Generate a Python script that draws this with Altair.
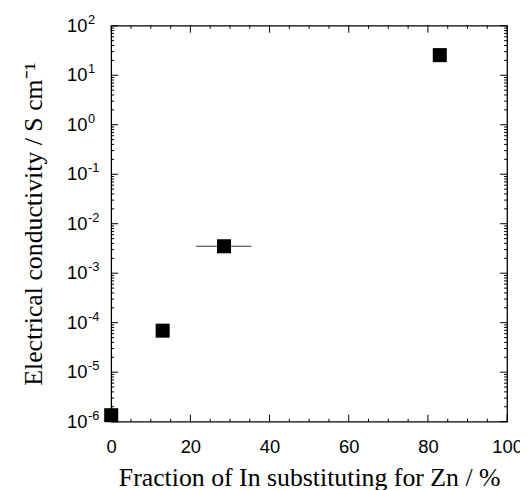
import altair as alt
import pandas as pd

# ---- data ----
frac_in = [0, 13, 28.5, 83]              # % In substituting for Zn
conductivity = [1.35e-6, 6.9e-5, 3.5e-3, 25.5]  # S cm^-1

err_x = [28.5]
err_lo = [21.4]
err_hi = [35.4]
err_y = [3.5e-3]

x_tick_labels = [0, 20, 40, 60, 80, 100]
x_minor = [v for v in range(0, 101, 5) if v % 20 != 0]
y_decades = [1e-6, 1e-5, 1e-4, 1e-3, 1e-2, 1e-1, 1e0, 1e1, 1e2]
y_base = ["10"] * 9
y_exponents = ["-6", "-5", "-4", "-3", "-2", "-1", "0", "1", "2"]
y_minor = [k * d for d in y_decades[:-1] for k in range(2, 10)]

W = 399
H = 399
SANS = "Liberation Sans"
SERIF = "Liberation Serif"

pts = pd.DataFrame({"x": frac_in, "y": conductivity})
err = pd.DataFrame({"x": err_x, "lo": err_lo, "hi": err_hi, "y": err_y})
xmaj = pd.DataFrame({"x": x_tick_labels})
xmin = pd.DataFrame({"x": x_minor})
ymaj = pd.DataFrame({"y": y_decades, "base": y_base, "exp": y_exponents})
ymin = pd.DataFrame({"y": y_minor})

xscale = alt.Scale(domain=[0, 100], nice=False, zero=False)
yscale = alt.Scale(type="log", domain=[1e-6, 1e2], nice=False)

xaxis = alt.Axis(
    values=x_tick_labels, ticks=False, domain=False, grid=False,
    labelFont=SANS, labelFontSize=18.5, labelColor="black", labelPadding=16,
    labelFlush=False, labelOverlap=False,
    title="Fraction of In substituting for Zn / %",
    titleFont=SERIF, titleFontSize=26, titleFontWeight="normal", titleColor="black",
    titleBaseline="alphabetic", titleY=64,
)
yaxis = alt.Axis(
    values=y_decades, ticks=False, domain=False, grid=False, labels=False,
    title="Electrical conductivity / S cm⁻¹",
    titleFont=SERIF, titleFontSize=26, titleFontWeight="normal", titleColor="black",
    titleBaseline="alphabetic", titleX=-70, titleAngle=270,
)

points = alt.Chart(pts).mark_square(size=200, color="black", opacity=1).encode(
    x=alt.X("x:Q", scale=xscale, axis=xaxis),
    y=alt.Y("y:Q", scale=yscale, axis=yaxis),
)

ebar = alt.Chart(err).mark_rule(color="#333333", strokeWidth=1.2).encode(
    x=alt.X("lo:Q", scale=xscale),
    x2="hi:Q",
    y=alt.Y("y:Q", scale=yscale),
)

ylab_base = alt.Chart(ymaj).mark_text(
    align="right", baseline="middle", font=SANS, fontSize=18.5, color="black"
).encode(y=alt.Y("y:Q", scale=yscale), x=alt.value(-24), text="base:N")

ylab_exp = alt.Chart(ymaj).mark_text(
    align="left", baseline="middle", font=SANS, fontSize=13, color="black", dy=-6, dx=0.5
).encode(y=alt.Y("y:Q", scale=yscale), x=alt.value(-24), text="exp:N")


def xticks(df, length):
    bottom = alt.Chart(df).mark_rule(color="black", strokeWidth=1).encode(
        x=alt.X("x:Q", scale=xscale), y=alt.value(H), y2=alt.value(H - length))
    top = alt.Chart(df).mark_rule(color="black", strokeWidth=1).encode(
        x=alt.X("x:Q", scale=xscale), y=alt.value(0), y2=alt.value(length))
    return [bottom, top]


def yticks(df, length):
    left = alt.Chart(df).mark_rule(color="black", strokeWidth=1).encode(
        y=alt.Y("y:Q", scale=yscale), x=alt.value(0), x2=alt.value(length))
    right = alt.Chart(df).mark_rule(color="black", strokeWidth=1).encode(
        y=alt.Y("y:Q", scale=yscale), x=alt.value(W), x2=alt.value(W - length))
    return [left, right]


layers = (xticks(xmaj, 7) + xticks(xmin, 3) + yticks(ymaj, 7) + yticks(ymin, 3)
          + [ebar, points, ylab_base, ylab_exp])

chart = alt.layer(*layers).properties(
    width=W, height=H,
    autosize=alt.AutoSizeParams(type="none"),
    padding={"left": 104, "top": 16, "right": 13, "bottom": 70},
).configure_view(stroke="black", strokeWidth=1.3)

chart.save("out.html", embed_options={"renderer": "svg", "actions": False})
